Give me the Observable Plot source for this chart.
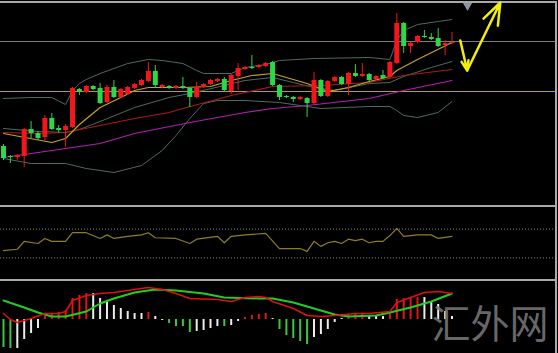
<!DOCTYPE html>
<html><head><meta charset="utf-8">
<script src="https://cdn.jsdelivr.net/npm/d3@7"></script>
<script src="https://cdn.jsdelivr.net/npm/@observablehq/plot@0.6"></script>
<style>
html,body{margin:0;padding:0;background:#000;}
#chart{position:relative;width:558px;height:353px;background:#000;overflow:hidden;}
.sep{position:absolute;left:0;width:556px;background:#a9a9a9;}
.pan{position:absolute;left:0;width:555px;}
</style></head><body>
<div id="chart">
  <div class="sep" style="top:1px;height:2px"></div>
  <div class="pan" id="main" style="top:3px;height:202px"></div>
  <div class="sep" style="top:205px;height:2px"></div>
  <div class="pan" id="rsi" style="top:207px;height:72px"></div>
  <div class="sep" style="top:279px;height:2px"></div>
  <div class="pan" id="macd" style="top:281px;height:72px"></div>
  <div class="sep" style="top:1px;left:555px;width:2px;height:352px"></div>
</div>
<script>
// ---- candles (bar index 0..65) ----
const open  = [154,144,143,144,171,167,163,182,172,170,173,211,208,214,212,198,213,203,206,212,215,219,229,213,214,212,214,212,203,213,216,219,221,209,224,231,233,233,234,238,215,204,203,201,202,197,220,204,219,223,216,227,224,226,221,225,223,237,277,254,258,264,263,262,255,257];
const close = [142,143,145,171,167,162,182,171,170,174,212,209,214,211,197,213,203,211,213,216,220,229,215,215,212,214,212,203,213,216,220,221,210,225,232,233,232,235,237,215,203,203,201,203,197,220,204,219,223,216,227,224,226,220,224,222,238,277,254,257,264,263,261,254,257,258];
const high  = [156,145,146,172,179,169,185,187,175,176,213,212,215,215,217,215,220,212,214,217,221,238,235,216,215,215,223,213,218,217,221,222,223,226,237,234,245,236,238,239,216,205,204,204,203,228,221,220,224,224,228,236,237,227,225,230,239,287,278,258,265,270,267,272,260,268];
const low   = [140,137,140,133,162,160,160,170,167,153,172,205,207,210,196,197,202,202,205,211,214,218,212,212,211,211,211,193,202,212,215,218,209,206,210,230,231,232,233,214,200,202,198,200,183,196,203,203,218,215,205,223,223,219,220,221,222,236,247,247,257,262,260,253,245,256];

// ---- overlays on price panel ----
const bbUpperIdx = [0,4,7,9,10,11,12,14,18,21,23,26,28,29,33,35,38,40,45,53,56,57,58,60,63,65];
const bbUpperVal = [202,203,203,196,210,217,221,227,237,241,240,237,230,227,227,233,236,240,242,243,241,260,270,276,279,281];
const bbMidIdx = [0,5,9,11,14,19,24,27,32,35,39,42,45,48,53,56,58,62,65];
const bbMidVal = [172,169,168,171,179,193,203,207,215,220,223,218,213,210,217,218,224,233,239];
const bbLowerIdx = [0,4,9,12,16,20,23,25,27,29,31,35,40,44,46,53,56,57,58,60,63,65];
const bbLowerVal = [142,137,137,132,128,135,150,165,182,197,200,200,198,194,192,194,194,190,185,183,188,199];
const maFastIdx = [0,7,9,11,14,17,19,21,26,30,33,36,39,44,47,50,53,56,57,60,65];
const maFastVal = [167,158,162,176,193,203,210,213,213,214,220,225,227,217,209,213,219,224,230,241,258];
const maMidIdx = [0,5,9,14,19,24,26,33,39,46,53,58,65];
const maMidVal = [168,167,168,175,182,188,192,205,214,215,218,225,231];
const maSlowIdx = [0,9,14,19,27,35,39,44,53,58,65];
const maSlowVal = [143,152,157,167,178,188,192,195,202,210,220];
const priceLevels = [259, 209];
const levelColors = ["#7c7c7c", "#b0a02a"];

// ---- annotation (bar index, price) ----
const arrowFrom = [[66.2,260],[67.2,230]];
const arrowTo   = [[67.2,230],[72.0,298]];
const shiftMark = [[67.25,295]];

// ---- oscillator ----
const rsiIdx = [0,2,3,5,6,7,9,10,11,12,14,15,16,18,20,21,22,25,27,28,31,32,33,35,38,40,43,44,45,46,47,48,49,50,51,52,53,54,55,56,57,58,60,62,63,65];
const rsiVal = [40,42,53,50,57,53,53,65,65,65,57,62,57,60,62,65,58,57,50,56,60,51,60,62,64,43,43,39,53,46,51,53,50,56,54,56,51,53,53,61,71,60,62,62,57,60];
const rsiLevels = [70, 30];

// ---- MACD ----
const macdHist = [-28,-29,-29,-20,-14,-9,3,6,7,9,21,24,26,26,21,19,14,11,8,6,6,7,3,-1,-4,-7,-7,-13,-12,-11,-9,-7,-7,-6,-2,2,4,5,6,1,-10,-16,-19,-22,-25,-18,-15,-10,-3,1,4,5,6,4,4,3,7,20,21,22,22,22,17,15,8,3];
const histState = "ggwwwwrrrrrrrwwwwwwwwrwwggggwwwwgwwrrrrwgggggwwwwwrrrwwwrrrrrwwwww".split("");
const sigIdx = [0,3,5,7,9,12,14,16,19,22,25,29,32,37,39,42,45,48,50,54,56,59,62,65];
const sigVal = [19,12,7,3,3,8,16,21,27,30,29,26,22,21,21,17,11,5,3,4,7,12,18,26];
const macdIdx = [0,1,2,4,6,8,9,10,12,14,16,19,21,23,25,27,31,33,35,37,38,39,42,44,46,48,51,53,56,57,59,61,63,65];
const macdVal = [6,0,-3,1,6,6,8,19,24,26,27,30,32,30,26,21,20,18,22,23,22,18,11,4,3,4,6,6,8,17,22,27,28,26];
const watermark = "汇外网";

// ---- build ----
const UP = "#f3161c", DN = "#2fd64a";
const stateColor = {g:"#3cc83c", w:"#ececec", r:"#e51414"};
const xScale = {domain:[-0.435, 80], axis:null};
const base = {width:555, marginTop:0, marginRight:0, marginBottom:0, marginLeft:0,
  style:{background:"#000", overflow:"visible"}};
const pts = (idx, val) => idx.map((i,k) => ({i, v: val[k]}));

const rows = open.map((o,i) => ({i, o, c: close[i], h: high[i], l: low[i], up: close[i] > o}));

const lineSpec = [
  [bbUpperIdx, bbUpperVal, "#4b6c62", 1],
  [bbMidIdx, bbMidVal, "#4b6c62", 1],
  [bbLowerIdx, bbLowerVal, "#4b6c62", 1],
  [maSlowIdx, maSlowVal, "#b21fb2", 1.2],
  [maMidIdx, maMidVal, "#a81a1a", 1.2],
  [maFastIdx, maFastVal, "#c9a22a", 1.2]
];

const mainPlot = Plot.plot({
  ...base, height:202,
  x: xScale, y:{domain:[95,297], axis:null},
  marks:[
    Plot.ruleY(priceLevels, {stroke:(d,k)=>levelColors[k], strokeWidth:1}),
    ...lineSpec.map(([idx,val,col,w]) => Plot.line(pts(idx,val), {x:"i", y:"v", stroke:col, strokeWidth:w})),
    Plot.ruleX(rows, {x:"i", y1:"l", y2:"h", stroke:d=>d.up?UP:DN, strokeWidth:1}),
    Plot.ruleX(rows, {x:"i", y1:"o", y2:"c", stroke:d=>d.up?UP:DN, strokeWidth:5}),
    Plot.arrow(arrowFrom.map((a,k)=>({x1:a[0], y1:a[1], x2:arrowTo[k][0], y2:arrowTo[k][1]})),
      {x1:"x1", y1:"y1", x2:"x2", y2:"y2", stroke:"#f2ee0c", strokeWidth:2.5, headLength:14, headAngle:40}),
    Plot.dot(shiftMark, {x:d=>d[0], y:d=>d[1], symbol:"triangle", rotate:180, r:3.5, fill:"#8c95a3", stroke:null})
  ]
});
document.getElementById("main").appendChild(mainPlot);

const rsiPlot = Plot.plot({
  ...base, height:72,
  x: xScale, y:{domain:[0,100], axis:null},
  marks:[
    Plot.ruleY(rsiLevels, {stroke:"#8a8a8a", strokeDasharray:"1,2", strokeWidth:1}),
    Plot.line(pts(rsiIdx, rsiVal), {x:"i", y:"v", stroke:"#8d7e24", strokeWidth:1.2})
  ]
});
document.getElementById("rsi").appendChild(rsiPlot);

const histRows = macdHist.map((v,i) => ({i, v, s: histState[i]}));
const macdPlot = Plot.plot({
  ...base, height:72,
  x: xScale, y:{domain:[-34,38], axis:null},
  marks:[
    Plot.ruleX(histRows, {x:"i", y1:0, y2:"v", stroke:d=>stateColor[d.s], strokeWidth:2}),
    Plot.line(pts(sigIdx, sigVal), {x:"i", y:"v", stroke:"#22cc22", strokeWidth:2}),
    Plot.line(pts(macdIdx, macdVal), {x:"i", y:"v", stroke:"#dd1111", strokeWidth:1.6}),
    Plot.text([watermark], {frameAnchor:"right", lineAnchor:"middle", text:d=>d, fontSize:39, dx:-7, dy:8,
      fill:"#767676", fillOpacity:0.9, fontFamily:"'Noto Sans CJK SC'", fontWeight:"normal"})
  ]
});
document.getElementById("macd").appendChild(macdPlot);
</script>
</body></html>
